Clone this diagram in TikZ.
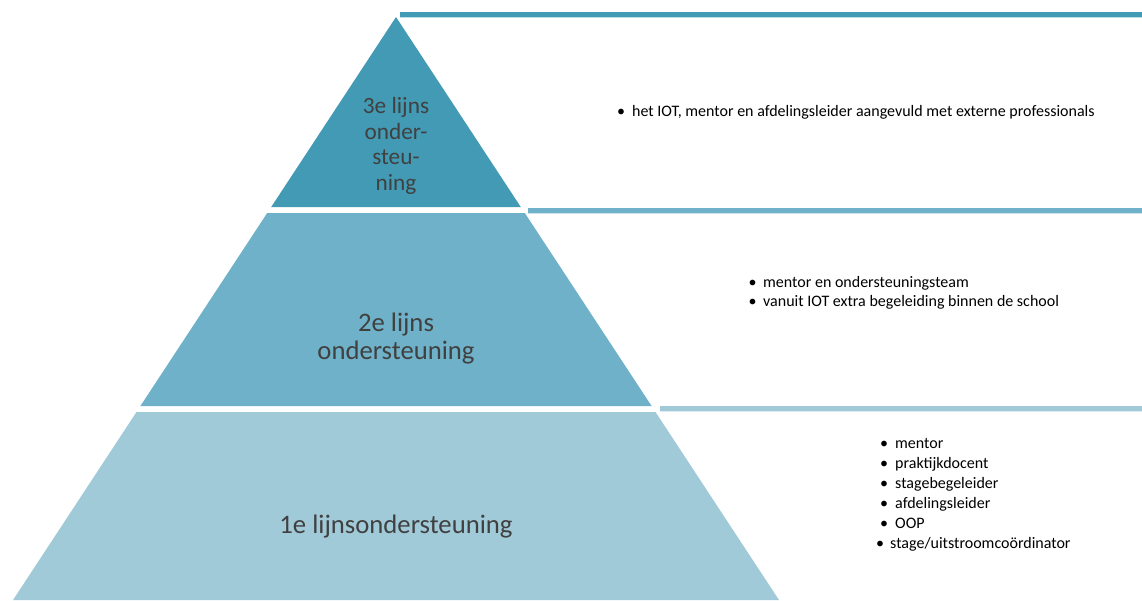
\documentclass[tikz,border=0pt]{standalone}
\usepackage{fontspec}
\setmainfont{Carlito}
\definecolor{lvl3}{RGB}{67,154,180}
\definecolor{lvl2}{RGB}{111,177,200}
\definecolor{lvl1}{RGB}{161,202,217}
\definecolor{lvl3l}{RGB}{190,222,232}
\definecolor{lvl2l}{RGB}{205,228,236}
\definecolor{lvl1l}{RGB}{222,236,242}
\definecolor{titlegray}{RGB}{64,64,64}
\tikzset{
  bar/.style={line width=5pt},
  barshade/.style={line width=1pt},
  title/.style={font=\fontsize{26.7}{28}\selectfont, text=titlegray, align=center, inner sep=0pt},
  item/.style={font=\fontsize{16}{19.5}\selectfont, text=black, anchor=base west, inner sep=0pt},
  dot/.style={font=\fontsize{16}{19.5}\selectfont, text=black, anchor=base west, inner sep=0pt}
}
\begin{document}
\begin{tikzpicture}[x=1pt,y=-1pt]
\useasboundingbox (0,0) rectangle (1142,600);
% bars
\coordinate (b1s) at (400,14.5); \coordinate (b1e) at (1142,14.5);
\coordinate (b2s) at (528,210.2); \coordinate (b2e) at (1142,210.2);
\coordinate (b3s) at (660,408.8); \coordinate (b3e) at (1142,408.8);
\draw[bar, lvl3] (b1s) -- (b1e);
\draw[barshade, lvl3l] ([yshift=-3pt]b1s) -- ([yshift=-3pt]b1e);
\draw[bar, lvl2] (b2s) -- (b2e);
\draw[barshade, lvl2l] ([yshift=-3pt]b2s) -- ([yshift=-3pt]b2e);
\draw[bar, lvl1] (b3s) -- (b3e);
\draw[barshade, lvl1l] ([yshift=-3pt]b3s) -- ([yshift=-3pt]b3e);
% pyramid levels
\fill[lvl3] (396,17) -- (520.8,207) -- (271.2,207) -- cycle;
\fill[lvl2] (267.2,213) -- (524.8,213) -- (651.6,406) -- (140.4,406) -- cycle;
\fill[lvl1] (136.5,412) -- (655.5,412) -- (779,600) -- (13,600) -- cycle;
% titles
\node[title, font=\fontsize{23.3}{25.5}\selectfont] (t3) at (396,146) {3e lijns\\onder-\\steu-\\ning};
\node[title] (t2) at (396,338.5) {2e lijns\\ondersteuning};
\node[title] (t1) at (396,527) {1e lijnsondersteuning};
% lists
\node[dot] (d31) at (617,116) {•};
\node[item] (i31) at (632,116) {het IOT, mentor en afdelingsleider aangevuld met externe professionals};
\node[dot] (d21) at (748.5,287) {•};
\node[item] (i21) at (763,287) {mentor en ondersteuningsteam};
\node[dot] (d22) at (748.5,306.5) {•};
\node[item] (i22) at (763,306.5) {vanuit IOT extra begeleiding binnen de school};
\node[dot] (d11) at (880,448.3) {•};
\node[item] (i11) at (895,448.3) {mentor};
\node[dot] (d12) at (880,468.3) {•};
\node[item] (i12) at (895,468.3) {praktijkdocent};
\node[dot] (d13) at (880,488.3) {•};
\node[item] (i13) at (895,488.3) {stagebegeleider};
\node[dot] (d14) at (880,508.3) {•};
\node[item] (i14) at (895,508.3) {afdelingsleider};
\node[dot] (d15) at (880,528) {•};
\node[item] (i15) at (895,528) {OOP};
\node[dot] (d16) at (876,548.3) {•};
\node[item] (i16) at (890,548.3) {stage/uitstroomcoördinator};
\end{tikzpicture}
\end{document}
